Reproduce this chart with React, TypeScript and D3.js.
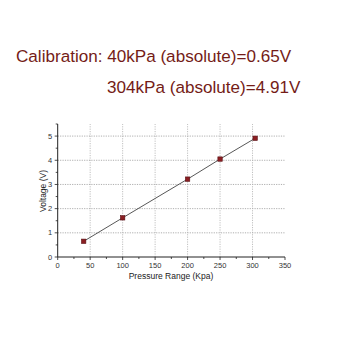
import React from "react";
import * as d3 from "d3";

const pressure = [40, 100, 200, 250, 304];
const voltage = [0.65, 1.62, 3.22, 4.05, 4.91];
const xTicks = [0, 50, 100, 150, 200, 250, 300, 350];
const yTicks = [0, 1, 2, 3, 4, 5];
const titleLine1 = "Calibration: 40kPa (absolute)=0.65V";
const titleLine2 = "304kPa (absolute)=4.91V";
const xLabel = "Pressure Range (Kpa)";
const yLabel = "Voltage (V)";

export default function App() {
  const W = 340, H = 340;
  const x = d3.scaleLinear().domain([0, 350]).range([57.7, 285]);
  const y = d3.scaleLinear().domain([0, 5.5]).range([257, 124]);
  const line = d3.line<number>().x((d) => x(pressure[d])).y((d) => y(voltage[d]));
  const idx = pressure.map((_, i) => i);
  const xMinor = d3.range(0, 351, 25);
  const yMinor = d3.range(0, 5.51, 0.5);
  const font = "Liberation Sans, Arial, sans-serif";
  const textColor = "#741c17";
  return (
    <svg width={W} height={H} style={{ position: "absolute", left: 0, top: 0, background: "#fff" }}>
      <rect width={W} height={H} fill="#fff" />
      <text x={16} y={62} fontFamily={font} fontSize={17.1} fill={textColor}>{titleLine1}</text>
      <text x={107} y={92.5} fontFamily={font} fontSize={17.1} fill={textColor}>{titleLine2}</text>
      {/* grid */}
      {yTicks.filter((t) => t > 0).map((t) => (
        <line key={"gy" + t} x1={x(0)} x2={x(350)} y1={y(t)} y2={y(t)} stroke="#9a9a9a" strokeWidth={0.8} strokeDasharray="1.2,1.2" />
      ))}
      {xTicks.filter((t) => t > 0 && t < 350).map((t) => (
        <line key={"gx" + t} x1={x(t)} x2={x(t)} y1={y(0)} y2={y(5.5)} stroke="#b0b0b0" strokeWidth={0.8} strokeDasharray="1.2,1.2" />
      ))}
      {/* axes */}
      <line x1={x(0)} x2={x(350)} y1={y(0)} y2={y(0)} stroke="#222" strokeWidth={1} />
      <line x1={x(0)} x2={x(0)} y1={y(0)} y2={y(5.5)} stroke="#222" strokeWidth={1} />
      {xMinor.map((t) => (
        <line key={"xt" + t} x1={x(t)} x2={x(t)} y1={y(0)} y2={y(0) + (t % 50 === 0 ? 3 : 2)} stroke="#222" strokeWidth={0.8} />
      ))}
      {yMinor.map((t) => (
        <line key={"yt" + t} x1={x(0)} x2={x(0) - (Math.abs(t - Math.round(t)) < 0.01 ? 3 : 2)} y1={y(t)} y2={y(t)} stroke="#222" strokeWidth={0.8} />
      ))}
      {xTicks.map((t) => (
        <text key={"xl" + t} x={x(t)} y={y(0) + 11} textAnchor="middle" fontFamily={font} fontSize={7.5} fill="#333">{t}</text>
      ))}
      {yTicks.map((t) => (
        <text key={"yl" + t} x={x(0) - 5.5} y={y(t) + 2.5} textAnchor="end" fontFamily={font} fontSize={7.5} fill="#333">{t}</text>
      ))}
      <text x={171} y={279} textAnchor="middle" fontFamily={font} fontSize={8.5} fill="#222">{xLabel}</text>
      <text transform={`translate(46,191) rotate(-90)`} textAnchor="middle" fontFamily={font} fontSize={8.5} fill="#222">{yLabel}</text>
      {/* data */}
      <path d={line(idx) || ""} fill="none" stroke="#444" strokeWidth={0.9} />
      {idx.map((i) => (
        <rect key={"p" + i} x={x(pressure[i]) - 2.2} y={y(voltage[i]) - 2.2} width={4.4} height={4.4} fill="#8b1e22" stroke="#5a1216" strokeWidth={0.6} />
      ))}
    </svg>
  );
}
